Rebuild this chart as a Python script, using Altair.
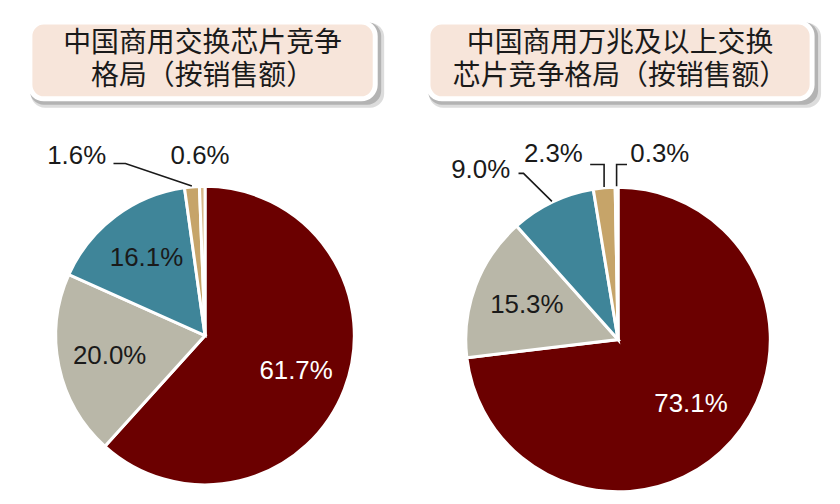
import numpy as np
import pandas as pd
import altair as alt

# Data (clockwise from 12 o'clock)
segments = ["s1", "s2", "s3", "s4", "s5"]
seg_colors = ["#6B0000", "#B9B7A8", "#3F8599", "#C6A469", "#D8B98A"]
left_values = [61.7, 20.0, 16.1, 1.6, 0.6]
right_values = [73.1, 15.3, 9.0, 2.3, 0.3]
left_title = ["中国商用交换芯片竞争", "格局（按销售额）"]
right_title = ["中国商用万兆及以上交换", "芯片竞争格局（按销售额）"]

PANEL_W, PANEL_H = 412, 488
CJK = "Noto Sans CJK SC"
NUM = "Liberation Sans"
INK = "#1a1a1a"

# Layout per panel (panel pixels): pie centre/radius, title box, outside labels
left_layout = {
    "cx": 197, "cy": 327, "r": 150,
    "box": (19, 10, 370, 91),
    "outer": {
        "s4": {"tx": 68, "ty": 147, "ly": 154, "elbow": 117, "end": 105},
        "s5": {"tx": 192, "ty": 147},
    },
}
right_layout = {
    "cx": 198, "cy": 331, "r": 153,
    "box": (5, 10, 395, 91),
    "outer": {
        "s3": {"tx": 60, "ty": 161, "ly": 164, "elbow": 103, "end": 98},
        "s4": {"tx": 133, "ty": 145, "ly": 155, "elbow": "vertical", "end": 170},
        "s5": {"tx": 240, "ty": 145, "ly": 155, "elbow": "vertical", "end": 207},
    },
}

xs = alt.Scale(domain=[0, PANEL_W])
ys = alt.Scale(domain=[0, PANEL_H], reverse=True)


def build_panel(values, title_lines, lay):
    cx, cy, r = lay["cx"], lay["cy"], lay["r"]
    labels = [f"{v:.1f}%" for v in values]
    df = pd.DataFrame({
        "segment": segments,
        "value": values,
        "rank": range(len(values)),
        "inner": [("" if s in lay["outer"] else t) for s, t in zip(segments, labels)],
    })

    # outside labels and their leader lines, anchored at slice mid-angles
    total = sum(values)
    starts = np.cumsum([0] + values[:-1])
    out_rows, lead_rows = [], []
    for i, s in enumerate(segments):
        if s not in lay["outer"]:
            continue
        o = lay["outer"][s]
        out_rows.append({"x": o["tx"], "y": o["ty"], "text": labels[i]})
        if "end" not in o:
            continue
        a = (starts[i] + values[i] / 2) / total * 2 * np.pi
        ax, ay = cx + (r + 1) * np.sin(a), cy - (r + 1) * np.cos(a)
        ex = ax if o["elbow"] == "vertical" else o["elbow"]
        for k, (px, py) in enumerate([(ax, ay), (ex, o["ly"]), (o["end"], o["ly"])]):
            lead_rows.append({"id": s, "seq": k, "x": px, "y": py})
    out_df = pd.DataFrame(out_rows)
    lead_df = pd.DataFrame(lead_rows)

    one = pd.DataFrame({"k": [0]})
    x0, y0, x1, y1 = lay["box"]
    shadow1 = alt.Chart(one).mark_rect(cornerRadius=14, fill="#9a9a9a", opacity=0.35).encode(
        x=alt.value(x0 + 3), x2=alt.value(x1 + 7), y=alt.value(y0 + 3), y2=alt.value(y1 + 7))
    shadow2 = alt.Chart(one).mark_rect(cornerRadius=14, fill="#8a8a8a", opacity=0.5).encode(
        x=alt.value(x0 + 2), x2=alt.value(x1 + 4), y=alt.value(y0 + 2), y2=alt.value(y1 + 4))
    box = alt.Chart(one).mark_rect(cornerRadius=14, fill="#F7E5DA", stroke="white", strokeWidth=5).encode(
        x=alt.value(x0 + 2), x2=alt.value(x1 - 2), y=alt.value(y0 + 2), y2=alt.value(y1 - 2))

    # title lines, one row each, centred in the box
    mid_y = (y0 + y1) / 2
    title_df = pd.DataFrame({
        "text": title_lines,
        "x": [(x0 + x1) / 2] * len(title_lines),
        "y": [mid_y + 33 * (i - (len(title_lines) - 1) / 2) for i in range(len(title_lines))],
    })
    title = alt.Chart(title_df).mark_text(
        font=CJK, fontSize=28, color=INK, align="center", baseline="middle"
    ).encode(x=alt.X("x:Q", scale=xs, axis=None), y=alt.Y("y:Q", scale=ys, axis=None), text="text:N")

    theta = alt.Theta("value:Q", stack=True)
    order = alt.Order("rank:Q")
    pie = alt.Chart(df).mark_arc(outerRadius=r, stroke="white", strokeWidth=3).encode(
        theta=theta, order=order,
        color=alt.Color("segment:N", scale=alt.Scale(domain=segments, range=seg_colors), legend=None),
        x=alt.value(cx), y=alt.value(cy),
    )
    inner = alt.Chart(df).mark_text(radius=98, font=NUM, fontSize=26, align="center", baseline="middle").encode(
        theta=theta, order=order, text="inner:N",
        color=alt.condition("datum.rank == 0", alt.value("white"), alt.value(INK)),
        x=alt.value(cx), y=alt.value(cy),
    )
    outer = alt.Chart(out_df).mark_text(font=NUM, fontSize=26, color=INK, align="center", baseline="middle").encode(
        x=alt.X("x:Q", scale=xs, axis=None), y=alt.Y("y:Q", scale=ys, axis=None), text="text:N")
    leaders = alt.Chart(lead_df).mark_line(color=INK, strokeWidth=1.6).encode(
        x=alt.X("x:Q", scale=xs, axis=None), y=alt.Y("y:Q", scale=ys, axis=None),
        detail="id:N", order="seq:Q")

    return alt.layer(shadow1, shadow2, box, title, pie, inner, leaders, outer).properties(
        width=PANEL_W, height=PANEL_H)


chart = alt.hconcat(
    build_panel(left_values, left_title, left_layout),
    build_panel(right_values, right_title, right_layout),
    spacing=0,
).properties(padding=0, background="white").configure_view(stroke="transparent")

chart.save("out.html", embed_options={"renderer": "svg", "actions": False})
